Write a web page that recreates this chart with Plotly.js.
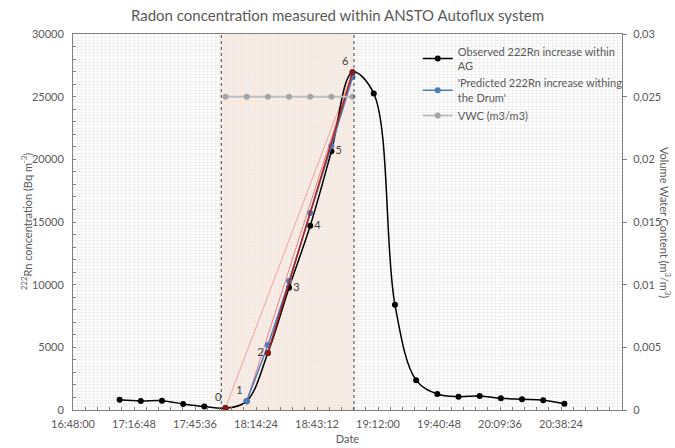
<!DOCTYPE html>
<html>
<head>
<meta charset="utf-8">
<script src="https://cdn.plot.ly/plotly-3.0.1.min.js"></script>
<style>html,body{margin:0;padding:0;background:#fff;}#chart{width:675px;height:448px;}</style>
</head>
<body>
<div id="chart"></div>
<script>
// ---- data ----
const DAY = '2021-01-01 ';
const observedTimes = ['17:10','17:20','17:30','17:40','17:50','18:00','18:10','18:20','18:30','18:40','18:50','19:00','19:10','19:20','19:30','19:40','19:50','20:00','20:10','20:20','20:30','20:40'];
const observedValues = [820,720,740,480,270,150,700,4550,9750,14700,20650,26950,25250,8400,2380,1280,1060,1120,930,850,780,500];

const predictedTimes = ['18:10','18:20','18:30','18:40','18:50','19:00'];
const predictedValues = [720,5190,10300,15720,21060,26570];

const vwcTimes = ['18:00','18:10','18:20','18:30','18:40','18:50','19:00'];
const vwcValues = [0.025,0.025,0.025,0.025,0.025,0.025,0.025];

const pinkATimes = ['18:00','19:00'];
const pinkAValues = [150,26950];
const pinkBTimes = ['18:10','19:00'];
const pinkBValues = [700,26950];
const darkRedTimes = ['18:00','18:20','19:00'];
const darkRedValues = [150,4550,26950];

const pointLabelTimes = ['18:00','18:10','18:20','18:30','18:40','18:50','19:00'];
const pointLabelValues = [150,700,4550,9750,14700,20650,26950];
const pointLabels = ['0','1','2','3','4','5','6'];

const xTickTimes = ['16:48:00','17:16:48','17:45:36','18:14:24','18:43:12','19:12:00','19:40:48','20:09:36','20:38:24'];
const xRange = ['16:48:00','21:07:12'];
const shadeRange = ['17:58:00','19:00:40'];
const yTickVals = [0,5000,10000,15000,20000,25000,30000];
const yTickText = ['0','5000','10000','15000','20000','25000','30000'];
const y2TickVals = [0,0.005,0.01,0.015,0.02,0.025,0.03];
const y2TickText = ['0','0,005','0,01','0,015','0,02','0,025','0,03'];

const T = a => a.map(s => DAY + (s.length === 5 ? s + ':00' : s));

const FONT = 'Lato, "Open Sans", sans-serif';
const TXT = '#595959';

const traces = [
  {x: T(pinkATimes), y: pinkAValues, mode: 'lines', line: {color: '#f4a0a0', width: 1}, showlegend: false, hoverinfo: 'skip'},
  {x: T(pinkBTimes), y: pinkBValues, mode: 'lines', line: {color: '#ee8080', width: 1}, showlegend: false, hoverinfo: 'skip'},
  {x: T(vwcTimes), y: vwcValues, yaxis: 'y2', mode: 'lines+markers', name: 'VWC (m3/m3)', legendrank: 3,
   line: {color: '#bfbfbf', width: 2}, marker: {color: '#a6a6a6', size: 6}},
  {x: T(observedTimes), y: observedValues, mode: 'lines+markers', name: 'Observed 222Rn increase within<br>AG', legendrank: 1,
   line: {color: '#000000', width: 1.5, shape: 'spline', smoothing: 1}, marker: {color: '#000000', size: 6}},
  {x: T(predictedTimes), y: predictedValues, mode: 'lines+markers', name: "'Predicted 222Rn increase withing<br>the Drum'", legendrank: 2,
   line: {color: '#4a7ebb', width: 1.5, shape: 'spline', smoothing: 0.6}, marker: {color: '#4a7ebb', size: 6}},
  {x: T(darkRedTimes.slice(1)), y: darkRedValues.slice(1), mode: 'lines', line: {color: '#b02020', width: 1.5}, showlegend: false, hoverinfo: 'skip'},
  {x: T(darkRedTimes), y: darkRedValues, mode: 'markers', marker: {color: '#8b1a1a', size: 6}, showlegend: false, hoverinfo: 'skip'},
  {x: T(pointLabelTimes), y: pointLabelValues, mode: 'markers+text', text: pointLabels,
   marker: {size: 5, opacity: 0},
   textposition: ['top left','top left','middle left','middle right','middle right','middle right','top left'],
   textfont: {family: FONT, size: 11, color: '#404040'}, showlegend: false, hoverinfo: 'skip'},
  {x: [], y: [], xaxis: 'x3', yaxis: 'y3', showlegend: false, hoverinfo: 'skip'}
];

const dateRange = T(xRange);
const layout = {
  width: 675, height: 448,
  margin: {l: 73, r: 53, t: 34, b: 38},
  paper_bgcolor: '#ffffff', plot_bgcolor: '#ffffff',
  font: {family: FONT, size: 11, color: TXT},
  title: {text: 'Radon concentration measured within ANSTO Autoflux system', font: {family: FONT, size: 15, color: TXT}, x: 0.5, xanchor: 'center', y: 0.965, yanchor: 'middle'},
  showlegend: true,
  legend: {x: 0.628, y: 0.99, xanchor: 'left', yanchor: 'top', bgcolor: 'rgba(0,0,0,0)', borderwidth: 0,
           font: {family: FONT, size: 11, color: TXT}, traceorder: 'normal', itemwidth: 30, tracegroupgap: 2},
  xaxis: {type: 'date', range: dateRange, tickvals: T(xTickTimes), ticktext: xTickTimes,
          showline: true, linecolor: '#7f7f7f', linewidth: 1, mirror: true,
          ticks: 'inside', ticklen: 3, tickcolor: '#7f7f7f',
          showgrid: true, gridcolor: '#d4d4d4', gridwidth: 1, zeroline: false,
          minor: {dtick: 345600, ticks: 'inside', ticklen: 3, tickcolor: '#7f7f7f', showgrid: true, gridcolor: '#e2e2e2', gridwidth: 1},
          title: {text: 'Date', font: {family: FONT, size: 11, color: TXT}, standoff: 6},
          tickfont: {family: FONT, size: 11, color: TXT}, ticklabelstandoff: 4},
  yaxis: {range: [0, 30000], tickvals: yTickVals, ticktext: yTickText,
          showline: true, linecolor: '#7f7f7f', linewidth: 1, mirror: true,
          ticks: 'inside', ticklen: 3, tickcolor: '#7f7f7f',
          showgrid: true, gridcolor: '#d4d4d4', gridwidth: 1, zeroline: false,
          minor: {dtick: 1000, ticks: 'inside', ticklen: 3, tickcolor: '#7f7f7f', showgrid: true, gridcolor: '#e2e2e2', gridwidth: 1},
          tickfont: {family: FONT, size: 11, color: TXT}, ticklabelstandoff: 6},
  yaxis2: {range: [0, 0.03], overlaying: 'y', side: 'right', tickvals: y2TickVals, ticktext: y2TickText,
           showgrid: false, zeroline: false, showline: false, ticks: 'outside', ticklen: 4, tickcolor: '#7f7f7f',
           tickfont: {family: FONT, size: 11, color: TXT}, ticklabelstandoff: 4},
  xaxis3: {type: 'date', range: dateRange, overlaying: 'x', dtick: 115200, showticklabels: false, ticks: '',
           showgrid: true, gridcolor: '#f0f0f0', gridwidth: 1, zeroline: false, showline: false},
  yaxis3: {range: [0, 30000], overlaying: 'y', dtick: 250, showticklabels: false, ticks: '',
           showgrid: true, gridcolor: '#f0f0f0', gridwidth: 1, zeroline: false, showline: false},
  shapes: [
    {type: 'rect', xref: 'x', yref: 'paper', x0: DAY + shadeRange[0], x1: DAY + shadeRange[1], y0: 0, y1: 1,
     fillcolor: '#fbe6da', line: {width: 0}, layer: 'below'},
    {type: 'line', xref: 'x', yref: 'paper', x0: DAY + shadeRange[0], x1: DAY + shadeRange[0], y0: 0, y1: 1,
     line: {color: '#404040', width: 1, dash: 'dot'}, layer: 'above'},
    {type: 'line', xref: 'x', yref: 'paper', x0: DAY + shadeRange[1], x1: DAY + shadeRange[1], y0: 0, y1: 1,
     line: {color: '#404040', width: 1, dash: 'dot'}, layer: 'above'}
  ],
  annotations: [
    {text: '<sup>222</sup>Rn concentration (Bq m<sup>-3</sup>)', xref: 'paper', yref: 'paper', x: 0, xshift: -47, y: 0.5,
     textangle: -90, showarrow: false, font: {family: FONT, size: 11, color: TXT}, xanchor: 'center', yanchor: 'middle'},
    {text: 'Volume Water Content (m<sup>3</sup>/m<sup>3</sup>)', xref: 'paper', yref: 'paper', x: 1, xshift: 44, y: 0.5,
     textangle: 90, showarrow: false, font: {family: FONT, size: 11, color: TXT}, xanchor: 'center', yanchor: 'middle'}
  ]
};

Plotly.newPlot('chart', traces, layout, {staticPlot: true, displayModeBar: false});
</script>
</body>
</html>
